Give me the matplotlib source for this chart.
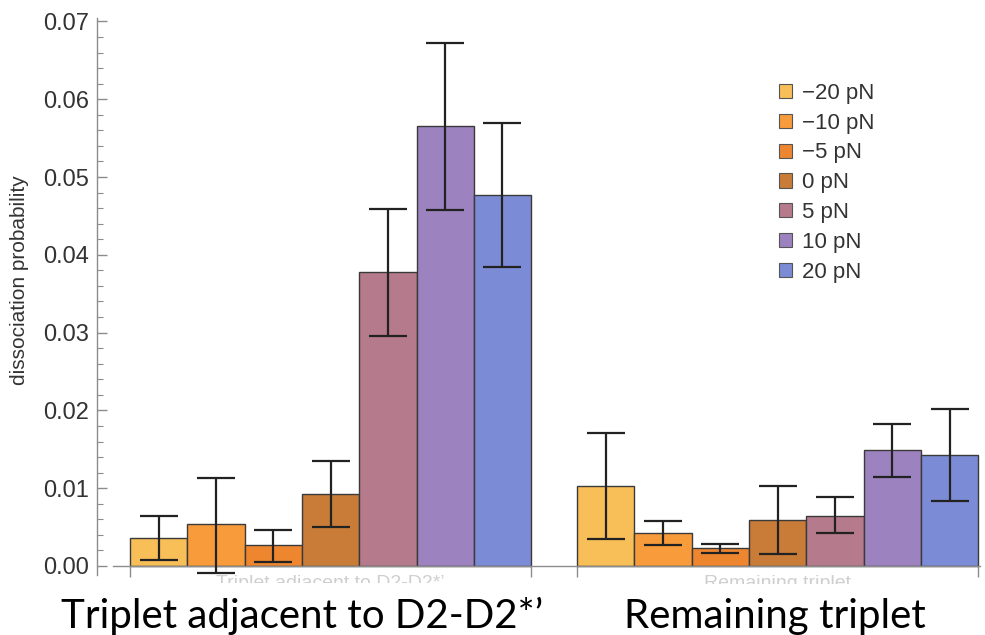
import matplotlib
matplotlib.use("Agg")
import matplotlib.pyplot as plt
from matplotlib.patches import Patch
import numpy as np

groups = ["Triplet adjacent to D2-D2*\u2019", "Remaining triplet"]
forces = ["\u221220 pN", "\u221210 pN", "\u22125 pN", "0 pN", "5 pN", "10 pN", "20 pN"]
colors = ["#F8BE57", "#F89B3B", "#EE8630", "#C97B38", "#B57A8B", "#9D82C0", "#7C8BD5"]

adjacent = [0.0036, 0.0054, 0.0027, 0.0093, 0.0378, 0.0565, 0.0477]
adjacent_lo = [0.0008, -0.0009, 0.0005, 0.0050, 0.0296, 0.0457, 0.0384]
adjacent_hi = [0.0064, 0.0113, 0.0046, 0.0135, 0.0459, 0.0672, 0.0570]

remaining = [0.0103, 0.0042, 0.0023, 0.0059, 0.0064, 0.0149, 0.0143]
remaining_lo = [0.0035, 0.0027, 0.0017, 0.0015, 0.0042, 0.0114, 0.0084]
remaining_hi = [0.0171, 0.0058, 0.0028, 0.0103, 0.0089, 0.0183, 0.0202]

W, H = 985, 635
fig = plt.figure(figsize=(W / 100, H / 100), dpi=100)

# axes placement in pixels
ax_left, ax_right = 97, 982
ymin, ymax = -0.0012, 0.0705
px_per = 7780.0
y_top_px = 566 - ymax * px_per
y_bot_px = 566 - ymin * px_per
ax = fig.add_axes([ax_left / W, 1 - y_bot_px / H, (ax_right - ax_left) / W, (y_bot_px - y_top_px) / H])

bw = 57.3
xmin = (ax_left - 130) / bw
xmax = (ax_right - 130) / bw
gap = (577 - 531) / bw
ax.set_xlim(xmin, xmax)
ax.set_ylim(ymin, ymax)

starts = [0.0, 7.0 + gap]
data = [(adjacent, adjacent_lo, adjacent_hi), (remaining, remaining_lo, remaining_hi)]
for g, (vals, lo, hi) in enumerate(data):
    x = starts[g] + np.arange(7) + 0.5
    ax.bar(x, vals, width=1.0, color=colors, edgecolor="#3a3a3a", linewidth=1.0, zorder=2)
    vals = np.array(vals)
    yerr = np.vstack([vals - np.array(lo), np.array(hi) - vals])
    ax.errorbar(x, vals, yerr=yerr, fmt="none", ecolor="#222222", elinewidth=1.6,
                capsize=14, capthick=1.6, zorder=3)

# spines
for s in ["top", "right"]:
    ax.spines[s].set_visible(False)
ax.spines["left"].set_color("#8c8c8c")
ax.spines["left"].set_linewidth(1.0)
ax.spines["bottom"].set_position(("data", 0))
ax.spines["bottom"].set_color("#8c8c8c")
ax.spines["bottom"].set_linewidth(1.0)
ax.spines["bottom"].set_bounds((113 - 130) / bw, (980 - 130) / bw)

ax.set_yticks(np.arange(0, 0.0701, 0.01))
ax.set_yticklabels([f"{v:.2f}" for v in np.arange(0, 0.0701, 0.01)])
ax.set_yticks(np.arange(0, 0.0701, 0.002), minor=True)
ax.tick_params(axis="y", which="major", direction="in", length=7, width=1, color="#8c8c8c",
               labelsize=17, labelcolor="#333333", pad=6)
ax.tick_params(axis="y", which="minor", direction="in", length=4, width=0.8, color="#8c8c8c")

ax.set_xticks([starts[0], starts[0] + 7, starts[1], starts[1] + 7])
ax.set_xticklabels([])
ax.tick_params(axis="x", which="major", direction="out", length=8, width=1, color="#8c8c8c")
ax.tick_params(axis="x", which="minor", bottom=False)

for t in ax.get_yticklabels():
    t.set_fontfamily("Liberation Sans")

fig.text(20 / W, 1 - 280 / H, "dissociation probability", rotation=90, ha="center", va="center",
         fontsize=15, color="#333333", family="Liberation Sans")

# faint group labels (mostly hidden in reference)
for g in range(2):
    ax.text(starts[g] + 3.5, -0.0012, groups[g], ha="center", va="top", fontsize=14,
            color="#cfcfcf", family="Liberation Sans", zorder=1)

# big group labels
centers_px = [302, 775]
for g in range(2):
    fig.text(centers_px[g] / W, 1 - 628 / H, groups[g], ha="center", va="baseline",
             fontsize=29, family="Lato", color="black",
             bbox=dict(facecolor="white", edgecolor="none", pad=10), zorder=5)

handles = [Patch(facecolor=c, edgecolor="#555555", linewidth=0.8) for c in colors]
leg = fig.legend(handles, forces, loc="upper left", bbox_to_anchor=(772 / W, 1 - 76 / H),
                 frameon=False, handlelength=0.6, handleheight=0.6,
                 handletextpad=0.45, labelspacing=0.4, borderaxespad=0, borderpad=0.3,
                 prop={"family": "Liberation Sans", "size": 16})
for t in leg.get_texts():
    t.set_color("#333333")

fig.savefig("out.png", dpi=100)
